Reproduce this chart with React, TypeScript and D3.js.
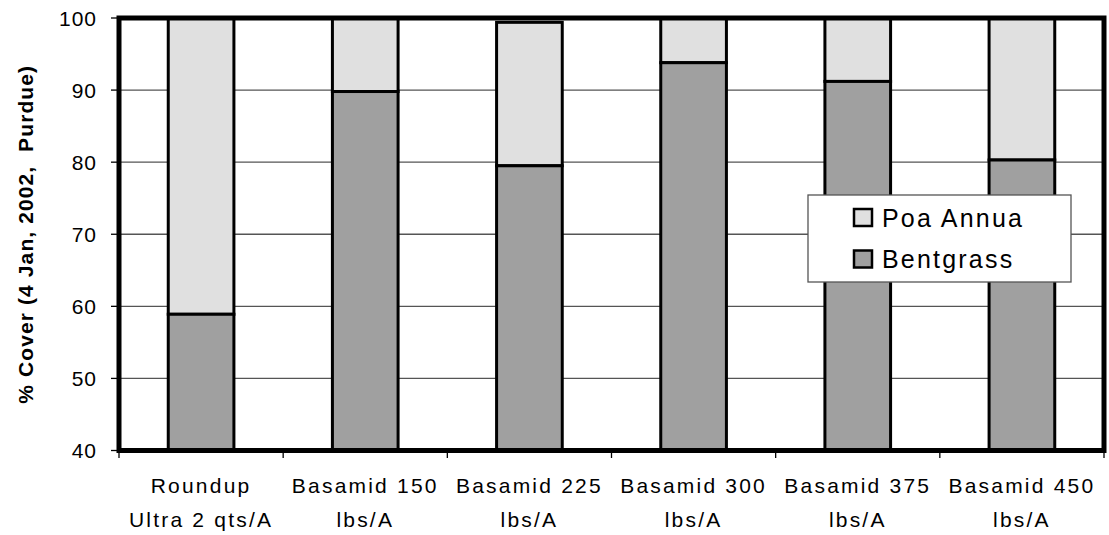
import React from "react";
import * as d3 from "d3";

const categories: string[][] = [
  ["Roundup", "Ultra 2 qts/A"],
  ["Basamid 150", "lbs/A"],
  ["Basamid 225", "lbs/A"],
  ["Basamid 300", "lbs/A"],
  ["Basamid 375", "lbs/A"],
  ["Basamid 450", "lbs/A"],
];
const bentgrass: number[] = [58.9, 89.8, 79.5, 93.8, 91.2, 80.3];
const poaAnnua: number[] = [41.1, 10.2, 19.9, 6.2, 8.8, 19.7];
const yTicks: number[] = [40, 50, 60, 70, 80, 90, 100];
const seriesNames: string[] = ["Poa Annua", "Bentgrass"];

const W = 1109;
const H = 535;
const left = 119;
const right = 1104;
const top = 18;
const bottom = 450.5;

const BENT = "#a0a0a0";
const POA = "#e0e0e0";
const FONT = "Arial, 'Liberation Sans', sans-serif";

export default function App() {
  const x = d3
    .scaleBand<number>()
    .domain(categories.map((_, i) => i))
    .range([left, right])
    .paddingInner(0.6)
    .paddingOuter(0.3);
  const y = d3.scaleLinear().domain([40, 100]).range([bottom, top]);
  const step = (right - left) / categories.length;

  return (
    <svg
      width={W}
      height={H}
      style={{ position: "absolute", left: 0, top: 0, display: "block", background: "#fff" }}
      fontFamily={FONT}
    >
      {/* gridlines */}
      {yTicks
        .filter((t) => t > 40 && t < 100)
        .map((t) => (
          <line key={"g" + t} x1={left} x2={right} y1={y(t)} y2={y(t)} stroke="#555" strokeWidth={1.3} />
        ))}
      {/* bars */}
      {categories.map((_, i) => {
        const bx = x(i)!;
        const bw = x.bandwidth();
        const b = bentgrass[i];
        const p = poaAnnua[i];
        return (
          <g key={"b" + i}>
            <rect x={bx} y={y(b + p)} width={bw} height={y(b) - y(b + p)} fill={POA} stroke="#000" strokeWidth={3} />
            <rect x={bx} y={y(b)} width={bw} height={y(40) - y(b)} fill={BENT} stroke="#000" strokeWidth={3} />
          </g>
        );
      })}
      {/* frame */}
      <rect x={left} y={top} width={right - left} height={bottom - top} fill="none" stroke="#000" strokeWidth={5} />
      {/* y ticks */}
      {yTicks.map((t) => (
        <g key={"y" + t}>
          <line x1={111} x2={left} y1={y(t)} y2={y(t)} stroke="#000" strokeWidth={1.3} />
          <text x={97} y={y(t)} dy="0.36em" textAnchor="end" fontSize={21} letterSpacing={1}>
            {t}
          </text>
        </g>
      ))}
      {/* x ticks */}
      {d3.range(categories.length + 1).map((i) => (
        <line key={"xt" + i} x1={left + step * i} x2={left + step * i} y1={bottom} y2={458} stroke="#000" strokeWidth={1.3} />
      ))}
      {/* x labels */}
      {categories.map((lines, i) => {
        const cx = x(i)! + x.bandwidth() / 2;
        return (
          <text key={"xl" + i} x={cx} textAnchor="middle" fontSize={21} letterSpacing={2.2}>
            <tspan x={cx} y={493}>{lines[0]}</tspan>
            <tspan x={cx} y={527}>{lines[1]}</tspan>
          </text>
        );
      })}
      {/* y title */}
      <text
        transform={`translate(33,${(top + bottom) / 2}) rotate(-90)`}
        textAnchor="middle"
        fontSize={21}
        fontWeight="bold"
        letterSpacing={1.1}
        style={{ whiteSpace: "pre" }}
      >
        {"% Cover (4 Jan, 2002,  Purdue)"}
      </text>
      {/* legend */}
      <g>
        <rect x={808} y={195} width={263} height={87} fill="#fff" stroke="#555" strokeWidth={1.3} />
        {seriesNames.map((name, i) => (
          <g key={"l" + i}>
            <rect x={854} y={209 + i * 41.5} width={18} height={17} fill={i === 0 ? POA : BENT} stroke="#000" strokeWidth={2.5} />
            <text x={882} y={226.5 + i * 41.5} fontSize={25} letterSpacing={2.2}>
              {name}
            </text>
          </g>
        ))}
      </g>
    </svg>
  );
}
